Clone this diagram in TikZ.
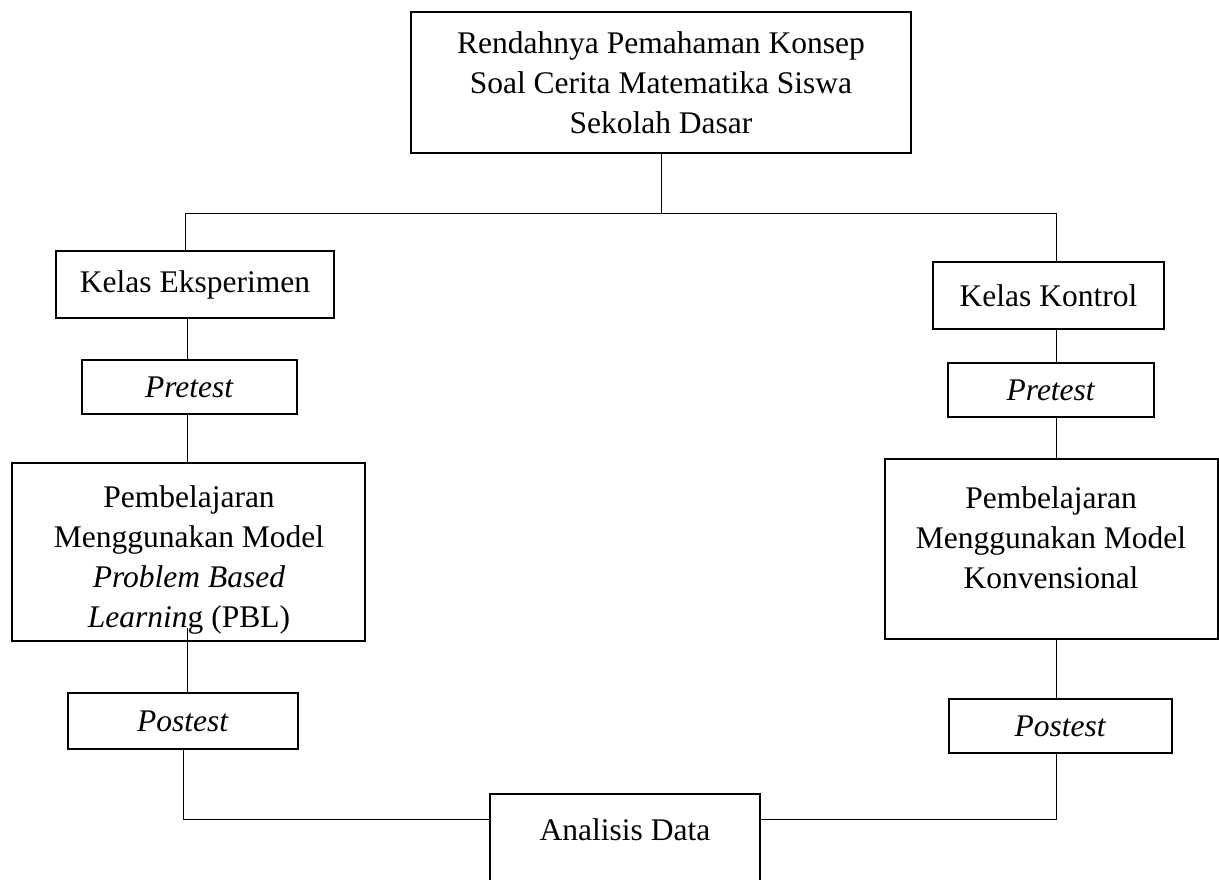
\documentclass[tikz,border=0pt]{standalone}
\usepackage{fontspec}
\setmainfont{Liberation Serif}
\usetikzlibrary{calc}
\begin{document}
\begin{tikzpicture}[x=1pt,y=-1pt,
  every node/.style={font=\fontsize{31.5}{40}\selectfont},
  box/.style={draw, line width=2.5pt, inner sep=0pt, outer sep=0pt, anchor=north west, align=center},
  conn/.style={line width=1pt},
  txt/.style={align=center, inner sep=0pt}]
\useasboundingbox (0,0) rectangle (1219,880);
\clip (0,0) rectangle (1219,880);
% boxes
\node[box, minimum width=500pt, minimum height=141pt] (top) at (411,12)
  {Rendahnya Pemahaman Konsep\\Soal Cerita Matematika Siswa\\Sekolah Dasar};
\node[box, minimum width=278pt, minimum height=67pt] (ke) at (56,251) {Kelas Eksperimen};
\node[box, minimum width=231pt, minimum height=67pt] (kk) at (933,262) {Kelas Kontrol};
\node[box, minimum width=215pt, minimum height=54pt] (pre1) at (82,360) {\textit{Pretest}};
\node[box, minimum width=206pt, minimum height=54pt] (pre2) at (948,363) {\textit{Pretest}};
\node[box, minimum width=353pt, minimum height=178pt] (pbl) at (12,463) {};
\node[txt] (pblt) at (189,560)
  {Pembelajaran\\Menggunakan Model\\\textit{Problem Based}\\\textit{Learnin}g (PBL)};
\node[box, minimum width=333pt, minimum height=180pt] (konv) at (885,459) {};
\node[txt] (konvt) at (1051,538) {Pembelajaran\\Menggunakan Model\\Konvensional};
\node[box, minimum width=230pt, minimum height=56pt] (post1) at (68,693) {\textit{Postest}};
\node[box, minimum width=223pt, minimum height=54pt] (post2) at (949,699) {\textit{Postest}};
\node[box, minimum width=270pt, minimum height=130pt] (ana) at (490,794) {};
\node[txt] (anat) at (625,830) {Analisis Data};
% junction coordinates
\coordinate (jc) at (661,213);
\coordinate (jl) at (185,213);
\coordinate (jr) at (1056,213);
\coordinate (xl) at (187,0);
\coordinate (pblin) at (187,628);
\coordinate (hy) at (0,819);
% connectors
\draw[conn] (top.south) -- (jc);
\draw[conn] (ke.north -| jl) -- (jl) -- (jr) -- (kk.north -| jr);
\draw[conn] (ke.south -| xl) -- (pre1.north -| xl);
\draw[conn] (pre1.south -| xl) -- (pbl.north -| xl);
\draw[conn] (pblin) -- (post1.north -| pblin);
\draw[conn] (post1.south) |- (ana.west |- hy);
\draw[conn] (kk.south -| jr) -- (pre2.north -| jr);
\draw[conn] (pre2.south -| jr) -- (konv.north -| jr);
\draw[conn] (konv.south -| jr) -- (post2.north -| jr);
\draw[conn] (post2.south -| jr) |- (ana.east |- hy);
\end{tikzpicture}
\end{document}
